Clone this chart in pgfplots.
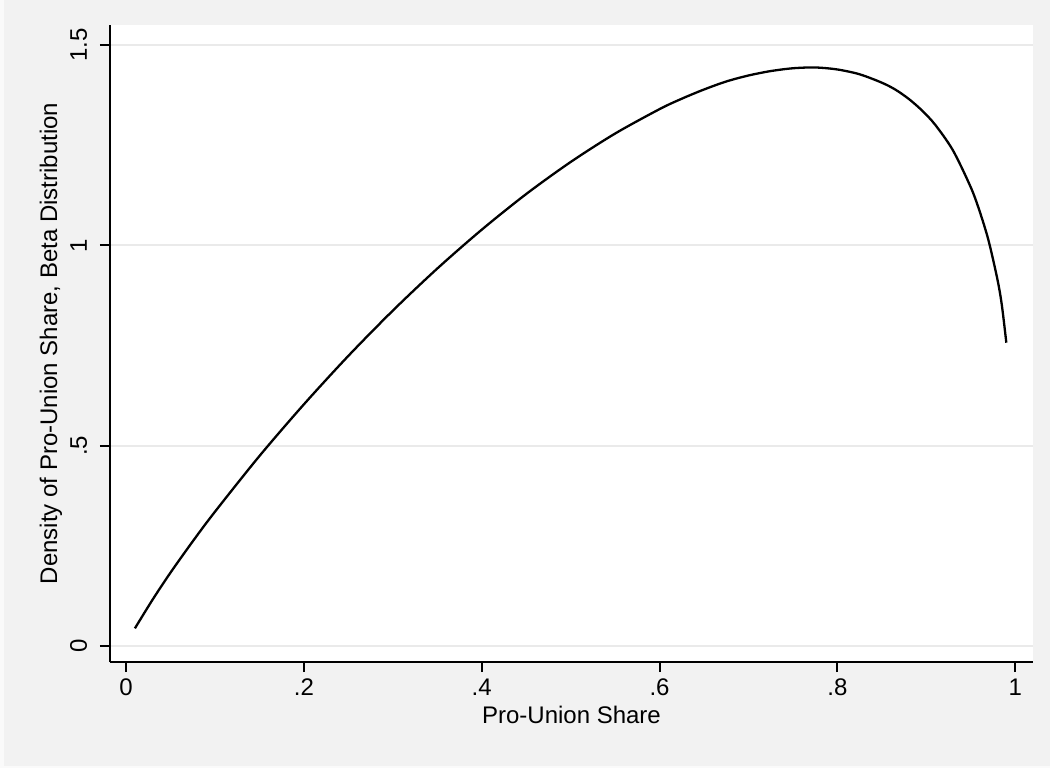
\documentclass[border=0pt]{standalone}
\usepackage{fontspec}
\setmainfont{Liberation Sans}
\usepackage{pgfplots}
\pgfplotsset{compat=1.18}
\definecolor{bg}{RGB}{242,242,242}
\definecolor{edge}{RGB}{250,250,250}
\definecolor{gridc}{RGB}{234,234,234}

% density of the pro-union share
\pgfplotstableread{
x      y
0.01   0.044
0.03   0.116
0.05   0.183
0.075  0.261
0.10   0.335
0.15   0.474
0.20   0.603
0.25   0.724
0.30   0.837
0.35   0.942
0.40   1.039
0.45   1.128
0.50   1.208
0.55   1.279
0.60   1.340
0.625  1.366
0.65   1.389
0.675  1.409
0.70   1.424
0.725  1.435
0.75   1.442
0.775  1.444
0.80   1.439
0.825  1.427
0.85   1.406
0.865  1.389
0.88   1.366
0.895  1.337
0.91   1.301
0.93   1.237
0.95   1.145
0.96   1.085
0.97   1.012
0.98   0.915
0.985  0.850
0.99   0.757
}\betadens

\begin{document}
\begin{tikzpicture}
\fill[edge] (0pt,0pt) rectangle (525pt,384pt);
\fill[bg] (2pt,1pt) rectangle (525pt,384pt);
\begin{axis}[
  at={(55pt,53pt)}, anchor=south west,
  scale only axis, width=461.5pt, height=318.5pt,
  xmin=-0.018, xmax=1.020, ymin=-0.040, ymax=1.550,
  axis lines*=left,
  axis line style={black, line width=1pt},
  axis background/.style={fill=white},
  xtick={0,0.2,0.4,0.6,0.8,1},
  xticklabels={0,.2,.4,.6,.8,1},
  ytick={0,0.5,1,1.5},
  yticklabels={0,.5,1,1.5},
  tick align=outside,
  major tick length=5pt,
  tick style={black, line width=1pt},
  ymajorgrids,
  grid style={gridc, line width=1pt},
  font=\fontsize{12}{14}\selectfont,
  xticklabel style={anchor=base, inner sep=0pt, yshift=-11.5pt},
  yticklabel style={xshift=-6.5pt, rotate=90, anchor=base, inner sep=0pt},
  xlabel={Pro-Union Share},
  ylabel={Density of Pro-Union Share, Beta Distribution},
  xlabel style={at={(axis description cs:0.5,-0.0973)}, anchor=base, inner sep=0pt},
  ylabel style={at={(axis description cs:-0.0574,0.5)}, anchor=base, inner sep=0pt},
]
\addplot[black, line width=1.15pt, smooth, no markers] table[x=x, y=y] {\betadens};
\end{axis}
\end{tikzpicture}
\end{document}
